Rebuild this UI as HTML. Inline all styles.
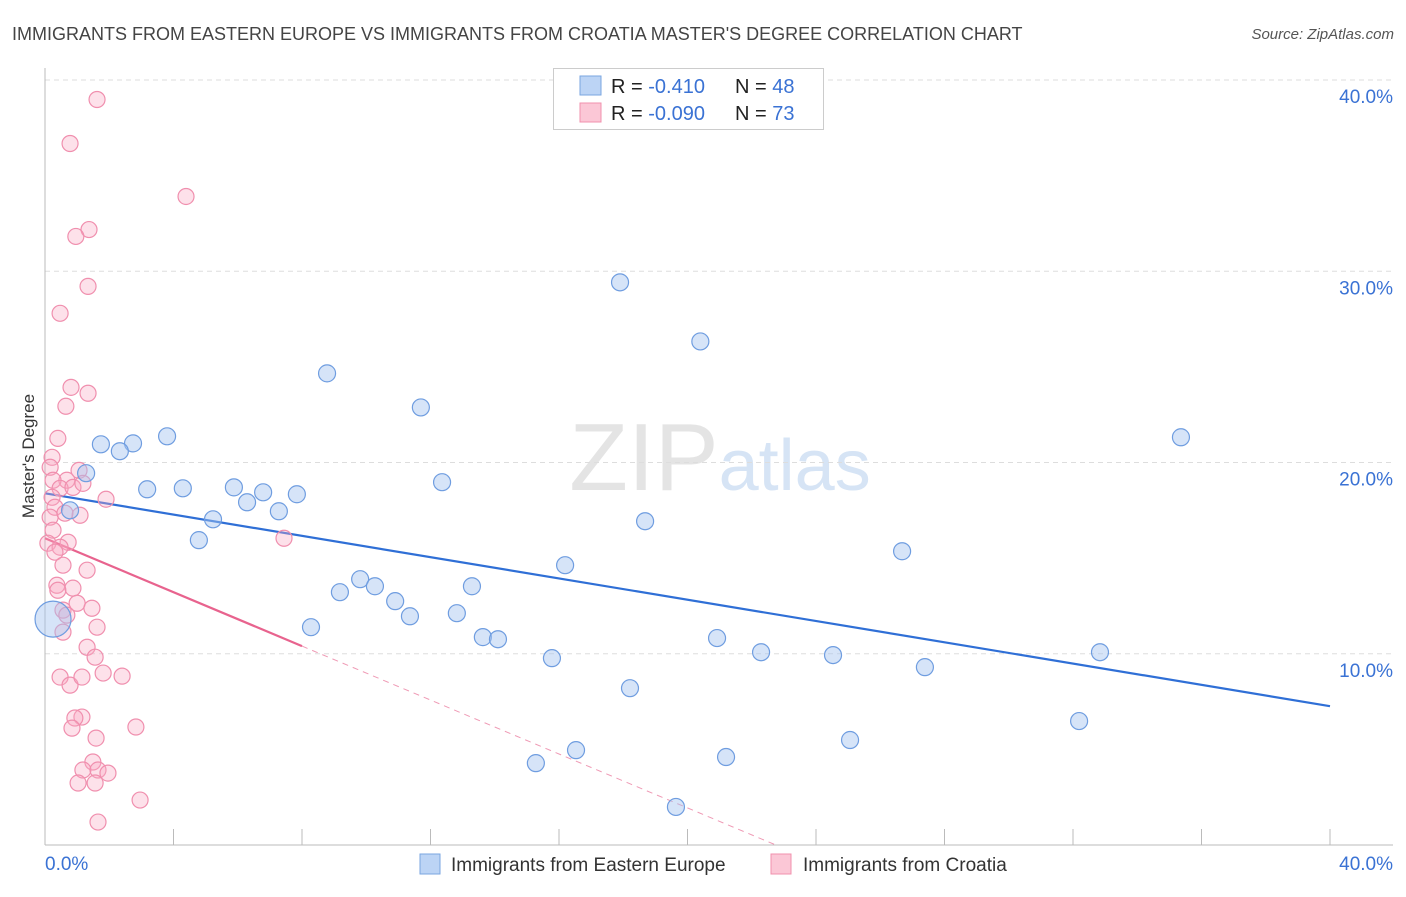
<!DOCTYPE html>
<html><head><meta charset="utf-8"><style>
body{margin:0;background:#fff;font-family:"Liberation Sans",sans-serif;}
svg text{font-family:"Liberation Sans",sans-serif;}
</style></head><body>
<svg id="chart" width="1406" height="892" viewBox="0 0 1406 892" xmlns="http://www.w3.org/2000/svg">
<text x="12" y="40" font-size="18" fill="#444">IMMIGRANTS FROM EASTERN EUROPE VS IMMIGRANTS FROM CROATIA MASTER'S DEGREE CORRELATION CHART</text>
<text x="1394" y="39" font-size="15" fill="#555" text-anchor="end" font-style="italic">Source: ZipAtlas.com</text>
<text x="720" y="490" font-size="96" text-anchor="middle" fill="#e4e4e4" font-family="Liberation Serif"><tspan>ZIP</tspan><tspan fill="#d6e4f5" font-family="Liberation Sans" font-size="72">atlas</tspan></text>
<text transform="translate(34,456) rotate(-90)" font-size="17" fill="#333" text-anchor="middle">Master's Degree</text>
<g id="grid"></g><g id="axes"></g><g id="trends"></g><g id="pts"></g>
<g>
<rect x="553.5" y="68.5" width="270" height="61" fill="#fff" stroke="#ccc"/>
<rect x="580" y="76" width="21" height="19" fill="#bcd4f5" stroke="#7aa6e0"/>
<rect x="580" y="103" width="21" height="19" fill="#fbc7d6" stroke="#f090ad"/>
<text x="611" y="93" font-size="20" fill="#222">R = <tspan fill="#3a72d4"> -0.410</tspan></text>
<text x="735" y="93" font-size="20" fill="#222">N = <tspan fill="#3a72d4">48</tspan></text>
<text x="611" y="120" font-size="20" fill="#222">R = <tspan fill="#3a72d4">-0.090</tspan></text>
<text x="735" y="120" font-size="20" fill="#222">N = <tspan fill="#3a72d4">73</tspan></text>
</g>
<g>
<rect x="420" y="854" width="20" height="20" fill="#bcd4f5" stroke="#7aa6e0"/>
<text x="451" y="871" font-size="19" fill="#333">Immigrants from Eastern Europe</text>
<rect x="771" y="854" width="20" height="20" fill="#fbc7d6" stroke="#f090ad"/>
<text x="803" y="871" font-size="19" fill="#333">Immigrants from Croatia</text>
</g>
</svg>
<script>
const xTicks=[0,40];
const yTicks=[10,20,30,40];
const blueX=[17.9,20.4,8.78,11.7,3.8,1.74,2.74,2.33,35.36,12.36,1.28,3.18,4.29,5.88,6.79,7.84,6.29,7.28,5.23,0.78,18.68,4.79,26.68,16.19,9.81,10.27,13.29,9.18,10.9,12.82,11.36,8.28,13.63,14.1,20.92,22.29,24.53,15.78,27.39,32.84,18.21,32.19,25.06,16.53,15.28,21.2,19.64,0.25];
const blueY=[29.42,26.33,24.66,22.88,21.37,20.95,21.0,20.59,21.32,18.97,19.44,18.6,18.65,18.7,18.44,18.34,17.92,17.45,17.03,17.5,16.93,15.94,15.36,14.63,13.9,13.53,13.53,13.22,12.75,12.12,11.96,11.39,10.87,10.76,10.82,10.08,9.93,9.77,9.3,10.08,8.2,6.48,5.49,4.96,4.28,4.6,1.99,11.81];
const pinkX=[1.62,0.78,4.39,1.37,0.96,1.34,0.47,0.81,1.34,0.65,0.40,0.22,0.16,0.68,1.06,0.25,0.47,0.87,1.18,0.22,1.90,0.31,1.09,0.16,0.62,0.25,0.72,0.09,0.47,0.31,0.56,1.31,0.37,0.87,0.40,1.00,1.46,0.56,0.68,0.56,1.62,1.31,1.56,0.47,0.78,1.15,1.81,2.40,1.15,0.93,0.84,2.83,1.59,1.49,1.18,1.65,1.96,1.03,1.56,2.96,1.65,7.44];
const pinkY=[38.98,36.68,33.91,32.18,31.82,29.21,27.80,23.93,23.62,22.94,21.26,20.27,19.75,19.07,19.59,19.07,18.65,18.70,18.91,18.18,18.08,17.66,17.24,17.14,17.35,16.46,15.83,15.78,15.57,15.31,14.63,14.37,13.58,13.43,13.32,12.64,12.38,12.28,12.02,11.13,11.39,10.34,9.82,8.78,8.36,8.78,8.99,8.83,6.69,6.64,6.11,6.17,5.59,4.34,3.92,3.92,3.76,3.24,3.24,2.35,1.20,16.04];
const blueTrend=[18.39,7.26];
const pinkTrend=[16.04,10.40,8.0,22.75];
const NS='http://www.w3.org/2000/svg';
const X=v=>45+v*(1285/40), Y=v=>845-v*(765/40);
function mk(p,t,a){const e=document.createElementNS(NS,t);for(const k in a)e.setAttribute(k,a[k]);document.getElementById(p).appendChild(e);return e;}
yTicks.forEach(t=>{
 const g=mk('grid','line',{x1:45,x2:1393,y1:Y(t),y2:Y(t),stroke:'#ddd','stroke-dasharray':'5,4'});
 
 
 const l=mk('grid','text',{x:1393,y:Y(t)+23,'text-anchor':'end','font-size':19,fill:'#3a72d4'});
 l.textContent=t.toFixed(1)+'%';
 
 
});
let ax=mk('axes','line',{x1:45,x2:45,y1:68,y2:845,stroke:'#bbb'});


ax=mk('axes','line',{x1:45,x2:1393,y1:845,y2:845,stroke:'#bbb'});


for(let i=0;i<=10;i++){const t=mk('axes','line',{x1:X(i*4),x2:X(i*4),y1:829,y2:845,stroke:'#bbb'});
 
 }
xTicks.forEach((t,i)=>{const l=mk('axes','text',{x:i?1393:45,y:870,'text-anchor':i?'end':'start','font-size':19,fill:'#3a72d4'});
 l.textContent=t.toFixed(1)+'%';
 
 });
pinkX.forEach((x,i)=>{const c=mk('pts','circle',{cx:X(x),cy:Y(pinkY[i]),r:8,fill:'rgba(248,170,195,0.35)',stroke:'#f08fae','stroke-width':1.2});
 
 });
blueX.forEach((x,i)=>{const c=mk('pts','circle',{cx:X(x),cy:Y(blueY[i]),r:i==blueX.length-1?18:8.5,fill:'rgba(165,196,240,0.45)',stroke:'#6f9de0','stroke-width':1.2});
 
 });
let t=mk('trends','line',{x1:X(0),y1:Y(blueTrend[0]),x2:X(40),y2:Y(blueTrend[1]),stroke:'#2f6fd6','stroke-width':2.2});


t=mk('trends','line',{x1:X(0),y1:Y(pinkTrend[0]),x2:X(pinkTrend[2]),y2:Y(pinkTrend[1]),stroke:'#e8638e','stroke-width':2.2});


t=mk('trends','line',{x1:X(pinkTrend[2]),y1:Y(pinkTrend[1]),x2:X(pinkTrend[3]),y2:Y(0),stroke:'#ef9ab5','stroke-width':1,'stroke-dasharray':'6,5'});


</script>
</body></html>
